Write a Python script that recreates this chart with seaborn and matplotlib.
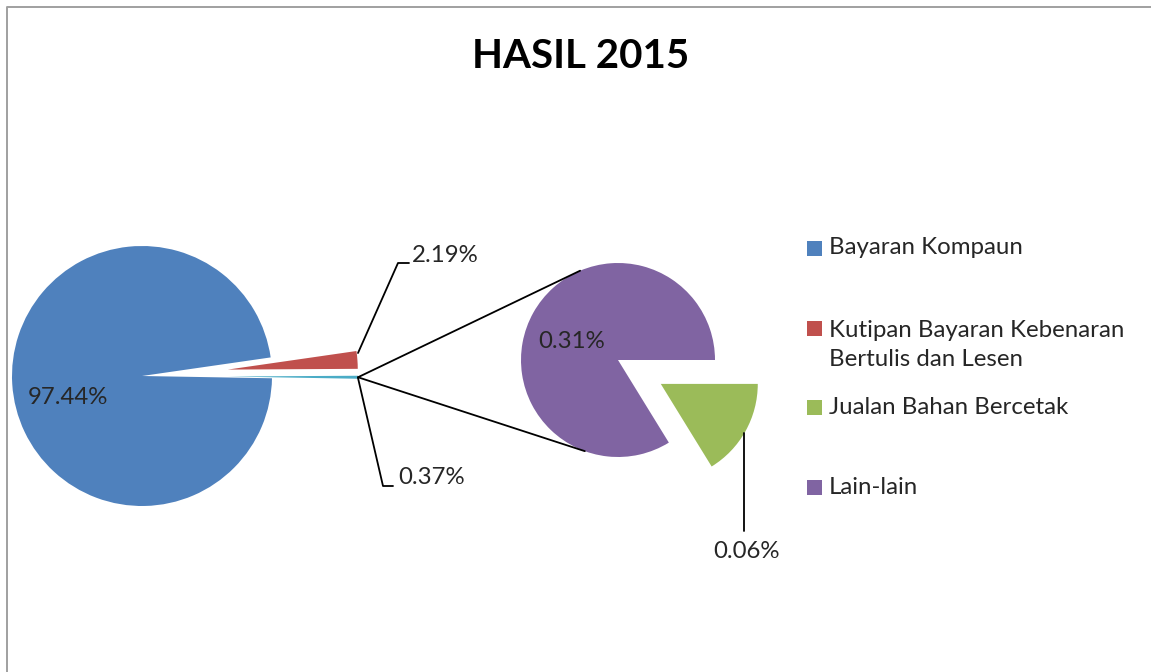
import numpy as np
import matplotlib.pyplot as plt
import seaborn as sns

sns.set_theme(style='white')
plt.rcParams['font.family'] = ['Lato', 'DejaVu Sans']

# data
kategori = ['Bayaran Kompaun', 'Kutipan Bayaran Kebenaran\nBertulis dan Lesen',
            'Jualan Bahan Bercetak', 'Lain-lain']
peratus = [97.44, 2.19, 0.06, 0.31]
warna = sns.color_palette(['#4F81BD', '#C0504D', '#9BBB59', '#8064A2'])
warna_lain = '#4BACC6'
label_lain = '0.37%'

W, H = 1151, 672
fig = plt.figure(figsize=(W / 100, H / 100), dpi=100)
ax = fig.add_axes([0, 0, 1, 1])

# pie utama: lain2 (gabungan), kutipan, kompaun
# (explode dalam unit data / piksel)
pusat1 = (142, H - 376)
r1 = 130
letup1 = 86
mula1 = -1.0
nilai1 = [peratus[2] + peratus[3], peratus[1], peratus[0]]
ax.pie(nilai1, colors=[warna_lain, warna[1], warna[0]], startangle=mula1,
       explode=[letup1, letup1, 0], center=pusat1, radius=r1, frame=True,
       wedgeprops=dict(linewidth=0))

# pie kedua: jualan + lain-lain
pusat2 = (618, H - 360)
r2 = 97
nilai2 = [peratus[2], peratus[3]]
mula2 = -360 * peratus[2] / sum(nilai2)
ax.pie(nilai2, colors=[warna[2], warna[3]], startangle=mula2,
       explode=[49, 0], center=pusat2, radius=r2, frame=True,
       wedgeprops=dict(linewidth=0))

# garisan penyambung
sudut_lain = np.deg2rad(mula1 + 360 * nilai1[0] / sum(nilai1) / 2)
hujung = (pusat1[0] + (r1 + letup1) * np.cos(sudut_lain),
          pusat1[1] + (r1 + letup1) * np.sin(sudut_lain))
for a in [113, -110]:
    t = np.deg2rad(a)
    ax.plot([hujung[0], pusat2[0] + r2 * np.cos(t)],
            [hujung[1], pusat2[1] + r2 * np.sin(t)], color='black', lw=1.3)

# label data
teks = '#262626'
fs = 17.3
ax.text(68, H - 397, f'{peratus[0]:.2f}%', fontsize=fs, color=teks, ha='center', va='center')
ax.text(572, H - 341, f'{peratus[3]:.2f}%', fontsize=fs, color=teks, ha='center', va='center')

ax.plot([358, 398, 409], [H - 353, H - 263, H - 263], color='black', lw=1.3)
ax.text(412, H - 256, f'{peratus[1]:.2f}%', fontsize=fs, color=teks, ha='left', va='center')

ax.plot([358, 383, 393], [H - 378, H - 486, H - 486], color='black', lw=1.3)
ax.text(398, H - 478, label_lain, fontsize=fs, color=teks, ha='left', va='center')

ax.plot([744, 744], [H - 433, H - 531], color='black', lw=1.3)
ax.text(747, H - 552, f'{peratus[2]:.2f}%', fontsize=fs, color=teks, ha='center', va='center')

# legend
pos_kotak = [248, 328, 407, 487]
pos_teks = [248, 345, 407, 487]
for i, nama in enumerate(kategori):
    ax.add_patch(plt.Rectangle((807, H - pos_kotak[i] - 7.5), 15, 15, color=warna[i], lw=0))
    ax.text(829, H - pos_teks[i], nama, fontsize=fs, color=teks, ha='left', va='center',
            linespacing=1.5)

# tajuk
ax.text(581, H - 56, 'HASIL 2015', fontsize=29, fontweight='bold', color='black',
        ha='center', va='center')

# bingkai
ax.plot([7, 7, W], [0, H - 7, H - 7], color='#a0a0a0', lw=1.4, clip_on=False)

ax.set_xlim(0, W)
ax.set_ylim(0, H)
ax.set_aspect('equal')
ax.axis('off')

fig.savefig('out.png', dpi=100)
